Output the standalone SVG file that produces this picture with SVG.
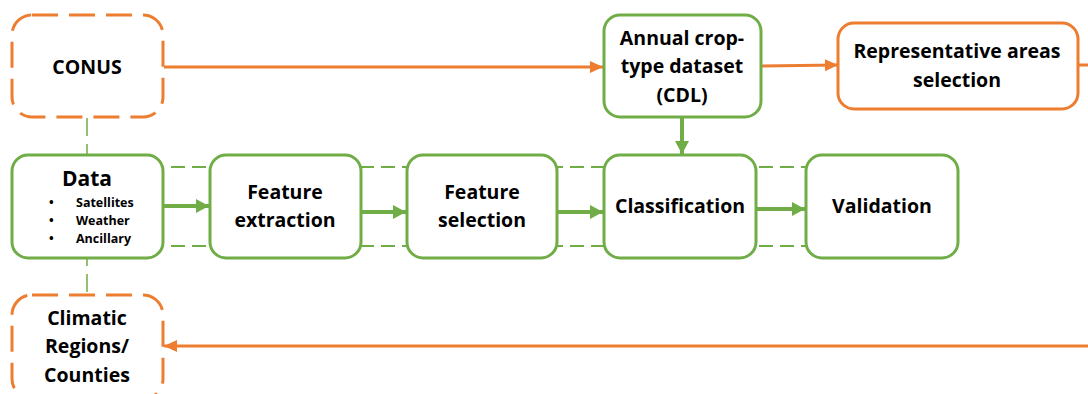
<svg xmlns="http://www.w3.org/2000/svg" width="1088" height="394" viewBox="0 0 1088 394">
<style>
.o{fill:#fff;stroke:#ED7D31;stroke-width:3}
.od{fill:#fff;stroke:#ED7D31;stroke-width:3;stroke-dasharray:26 11}
.g{fill:#fff;stroke:#70AD47;stroke-width:3}
.t{font-family:"Open Sans","Liberation Sans",sans-serif;font-weight:700;font-size:19.5px;fill:#000;text-anchor:middle}
.s{font-family:"Open Sans","Liberation Sans",sans-serif;font-weight:700;font-size:12.5px;fill:#000}
.ol{stroke:#ED7D31;stroke-width:3;fill:none}
.gl{stroke:#70AD47;stroke-width:4;fill:none}
.gd{stroke:#70AD47;stroke-width:2;fill:none;stroke-dasharray:14 7}
.gv{stroke:#70AD47;stroke-width:1.5;fill:none;stroke-dasharray:18 8}
</style>
<defs>
<marker id="ao" markerUnits="userSpaceOnUse" markerWidth="14" markerHeight="14" refX="13" refY="7" orient="auto"><path d="M0,1 L13,7 L0,13 Z" fill="#ED7D31"/></marker>
<marker id="ag" markerUnits="userSpaceOnUse" markerWidth="14" markerHeight="16" refX="13" refY="8" orient="auto"><path d="M0,1 L13,8 L0,15 Z" fill="#70AD47"/></marker>
</defs>
<g id="connectors">
<line class="gv" x1="87" y1="118" x2="87" y2="294"/>
<line class="gd" x1="87" y1="167" x2="957" y2="167"/>
<line class="gd" x1="87" y1="246" x2="957" y2="246"/>
<line class="ol" x1="164" y1="67" x2="603" y2="67" marker-end="url(#ao)"/>
<line class="ol" x1="762" y1="66" x2="838" y2="65" marker-end="url(#ao)"/>
<line class="ol" x1="1078" y1="65" x2="1088" y2="65"/>
<line class="ol" x1="1088" y1="346" x2="164" y2="346" marker-end="url(#ao)"/>
<line class="gl" x1="682" y1="118" x2="682" y2="154" marker-end="url(#ag)"/>
<line class="gl" x1="164" y1="206" x2="209" y2="206" marker-end="url(#ag)"/>
<line class="gl" x1="362" y1="212" x2="406" y2="212" marker-end="url(#ag)"/>
<line class="gl" x1="558" y1="212" x2="603" y2="212" marker-end="url(#ag)"/>
<line class="gl" x1="757" y1="209" x2="805" y2="209" marker-end="url(#ag)"/>
</g>
<g id="conus"><rect class="od" x="12" y="15" width="151" height="102" rx="20"/><text class="t" x="87" y="74">CONUS</text></g>
<g id="climatic"><rect class="od" x="12" y="295" width="151" height="104" rx="20"/><text class="t" x="87" y="325">Climatic</text><text class="t" x="87" y="353">Regions/</text><text class="t" x="87" y="382">Counties</text></g>
<g id="annual"><rect class="g" x="604" y="15" width="157" height="102" rx="16"/><text class="t" x="682" y="45">Annual crop-</text><text class="t" x="682" y="73">type dataset</text><text class="t" x="682" y="102">(CDL)</text></g>
<g id="representative"><rect class="o" x="838" y="23" width="240" height="86" rx="16"/><text class="t" x="957" y="58">Representative areas</text><text class="t" x="957" y="87">selection</text></g>
<g id="data"><rect class="g" x="12" y="155" width="151" height="103" rx="16"/><text class="t" x="87" y="186" style="font-size:21px">Data</text>
<text class="s" x="49" y="207">•</text><text class="s" x="76" y="207">Satellites</text>
<text class="s" x="49" y="225">•</text><text class="s" x="76" y="225">Weather</text>
<text class="s" x="49" y="243">•</text><text class="s" x="76" y="243">Ancillary</text></g>
<g id="extraction"><rect class="g" x="210" y="155" width="151" height="103" rx="16"/><text class="t" x="285" y="199">Feature</text><text class="t" x="285" y="227">extraction</text></g>
<g id="selection"><rect class="g" x="407" y="155" width="150" height="103" rx="16"/><text class="t" x="482" y="199">Feature</text><text class="t" x="482" y="227">selection</text></g>
<g id="classification"><rect class="g" x="604" y="155" width="152" height="103" rx="16"/><text class="t" x="680" y="213">Classification</text></g>
<g id="validation"><rect class="g" x="806" y="155" width="152" height="103" rx="16"/><text class="t" x="882" y="213">Validation</text></g>
</svg>
